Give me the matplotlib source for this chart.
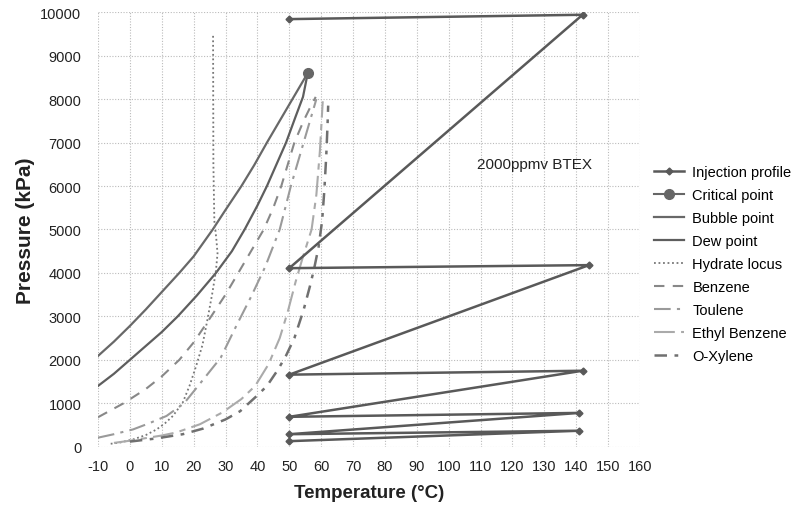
import matplotlib
matplotlib.use("Agg")
import matplotlib.pyplot as plt

plt.rcParams['font.family'] = ['Liberation Sans', 'DejaVu Sans']
plt.rcParams['axes.unicode_minus'] = False

# injection profile (zig-zag between 50 C and ~142 C)
inj_T = [50, 141, 50, 141, 50, 142, 50, 144, 50, 142, 50]
inj_P = [130, 370, 290, 780, 690, 1750, 1660, 4180, 4110, 9940, 9840]

crit_T = [55.8]
crit_P = [8600]

bubble_T = [-10, -5, 0, 5, 10, 15.5, 20, 26, 30, 35, 39, 43, 47, 51, 55.8]
bubble_P = [2090, 2420, 2780, 3160, 3560, 4000, 4380, 5000, 5450, 6000, 6480, 7000, 7500, 8000, 8600]

dew_T = [-10, -5, 0, 5, 10, 15, 21, 27, 32, 36, 40, 43, 46, 49, 52, 54.3, 55.8]
dew_P = [1400, 1680, 2000, 2320, 2640, 3000, 3480, 4000, 4500, 5000, 5550, 6000, 6500, 7000, 7600, 8050, 8600]

hydrate_T = [-6, -3, 1, 5, 8.4, 11, 13.5, 16.6, 18.7, 20.8, 22.8, 24.4, 25.9, 27, 27.5, 27.1, 26.5, 26.2, 26.1]
hydrate_P = [70, 100, 170, 270, 400, 540, 710, 1020, 1400, 1860, 2350, 2950, 3550, 4050, 4450, 4800, 5200, 6500, 9500]

benzene_T = [-10, -2, 5, 10, 15.5, 20, 25.5, 30, 34, 38, 42, 45, 47.5, 51.6, 54.5, 56.5, 58.3]
benzene_P = [680, 1000, 1330, 1620, 2000, 2400, 3000, 3500, 4000, 4500, 5000, 5500, 6000, 7000, 7500, 7800, 8050]

toluene_T = [-10, -5, 1, 6, 11.5, 17, 22.5, 28.5, 33.5, 38, 42.5, 47, 50.5, 54.5, 58.5]
toluene_P = [210, 290, 400, 540, 710, 1000, 1500, 2050, 2800, 3450, 4150, 5000, 6000, 7000, 8000]

ethyl_T = [-5, 0, 5, 10, 14.6, 22, 29, 35, 39.3, 43.5, 47, 49.5, 52, 54, 57, 58.5, 59.6, 60.5]
ethyl_P = [90, 140, 200, 260, 330, 520, 790, 1100, 1400, 1900, 2500, 3100, 3800, 4300, 5000, 5800, 6800, 7950]

oxylene_T = [0, 8, 16.6, 23, 30, 34.6, 39.5, 43, 46.5, 49, 51.6, 54.5, 56.5, 57.8, 59.2, 60.3, 61, 61.6, 62, 62.2]
oxylene_P = [120, 190, 290, 420, 630, 820, 1150, 1400, 1780, 2100, 2500, 3150, 3700, 4100, 4600, 5200, 5900, 6700, 7400, 7850]

fig = plt.figure(figsize=(8.03, 5.06), dpi=100)
ax = fig.add_axes([0.122, 0.115, 0.675, 0.859])

ax.plot(inj_T, inj_P, color="#595959", lw=1.8, marker="D", ms=3.5, label="Injection profile", zorder=5)
ax.plot(crit_T, crit_P, color="#666666", lw=1.5, marker="o", ms=7, label="Critical point", zorder=6)
ax.plot(bubble_T, bubble_P, color="#686868", lw=1.6, label="Bubble point")
ax.plot(dew_T, dew_P, color="#5e5e5e", lw=1.6, label="Dew point")
ax.plot(hydrate_T, hydrate_P, color="#777777", lw=1.3, linestyle=(0, (1, 1.5)), label="Hydrate locus")
ax.plot(benzene_T, benzene_P, color="#888888", lw=1.5, linestyle=(0, (5, 4)), label="Benzene")
ax.plot(toluene_T, toluene_P, color="#9a9a9a", lw=1.5, linestyle=(0, (8, 3, 1.5, 3)), label="Toulene")
ax.plot(ethyl_T, ethyl_P, color="#aaaaaa", lw=1.5, linestyle=(0, (10, 3, 3, 3)), label="Ethyl Benzene")
ax.plot(oxylene_T, oxylene_P, color="#707070", lw=1.8, linestyle=(0, (5, 3, 1.5, 3)), label="O-Xylene")

ax.set_xlim(-10, 160)
ax.set_ylim(0, 10000)
ax.set_xticks(range(-10, 161, 10))
ax.set_yticks(range(0, 10001, 1000))
ax.grid(True, color="#bbbbbb", linestyle=(0, (1, 1.5)), lw=0.8)
ax.set_axisbelow(True)
for s in ax.spines.values():
    s.set_visible(False)
ax.tick_params(length=0, labelsize=10.5, colors="#222222")
ax.tick_params(axis="y", pad=12)
ax.tick_params(axis="x", pad=9)

ax.set_xlabel("Temperature (°C)", fontsize=13.5, fontweight="bold", color="#222222", labelpad=8)
ax.set_ylabel("Pressure (kPa)", fontsize=15, fontweight="bold", color="#222222", labelpad=4)

ax.text(109, 6500, "2000ppmv BTEX", fontsize=11, va="center", color="#222222")

fig.legend(loc="upper left", bbox_to_anchor=(0.815, 0.672), frameon=False, fontsize=10.5,
           numpoints=1, handlelength=2.0, handletextpad=0.6, labelspacing=0.62,
           borderpad=0, borderaxespad=0)

plt.savefig("out.png", dpi=100)
